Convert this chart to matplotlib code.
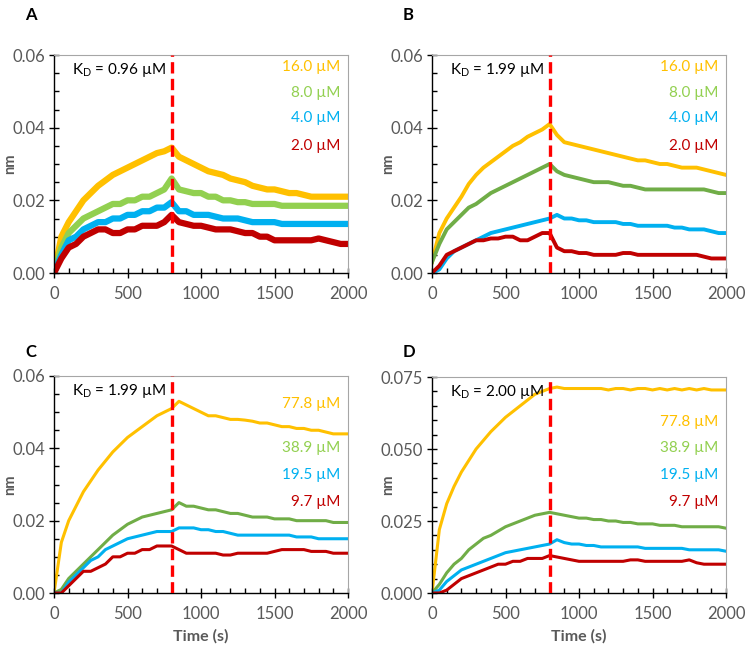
import matplotlib
matplotlib.use("Agg")
import matplotlib.pyplot as plt
from matplotlib.ticker import MultipleLocator, FormatStrFormatter

plt.rcParams["font.family"] = ["Lato", "DejaVu Sans"]

# time axis (s), one value every 50 s
time_s = list(range(0, 2001, 50))

# panel A
a_16 = [0, .010, .014, .017, .020, .022, .024, .0255, .027, .028, .029, .030, .031, .032, .033, .0335, .0345,
        .032, .031, .030, .029, .028, .0275, .027, .026, .0255, .025, .024, .0235, .023, .023, .0225, .022, .022,
        .0215, .021, .021, .021, .021, .021, .021]
a_8 = [0, .007, .011, .013, .015, .016, .017, .018, .019, .019, .020, .020, .021, .021, .022, .023, .026,
       .023, .0225, .022, .022, .021, .021, .020, .020, .0195, .0195, .019, .019, .019, .019, .0185, .0185, .0185,
       .0185, .0185, .0185, .0185, .0185, .0185, .0185]
a_4 = [0, .005, .009, .010, .012, .013, .014, .014, .015, .015, .016, .016, .017, .017, .018, .018, .0195,
       .017, .017, .016, .016, .016, .0155, .015, .015, .015, .0145, .014, .014, .014, .014, .0135, .0135, .0135,
       .0135, .0135, .0135, .0135, .0135, .0135, .0135]
a_2 = [0, .004, .007, .008, .010, .011, .012, .012, .011, .011, .012, .012, .013, .013, .013, .014, .016,
       .014, .0135, .013, .013, .0125, .012, .012, .012, .0115, .011, .011, .010, .010, .009, .009, .009, .009,
       .009, .009, .0095, .009, .0085, .008, .008]

# panel B
b_16 = [.003, .011, .015, .018, .021, .0245, .027, .029, .0305, .032, .0335, .035, .036, .0375, .0385, .0395, .041,
        .038, .036, .0355, .035, .0345, .034, .0335, .033, .0325, .032, .0315, .031, .031, .0305, .030, .030,
        .0295, .029, .029, .029, .0285, .028, .0275, .027]
b_8 = [.003, .008, .012, .014, .016, .018, .019, .0205, .022, .023, .024, .025, .026, .027, .028, .029, .030,
       .028, .027, .0265, .026, .0255, .025, .025, .025, .0245, .024, .024, .0235, .023, .023, .023, .023, .023,
       .023, .023, .023, .023, .0225, .022, .022]
b_4 = [0, .001, .004, .006, .007, .008, .009, .010, .011, .0115, .012, .0125, .013, .0135, .014, .0145, .015,
       .016, .015, .015, .0145, .0145, .014, .014, .014, .014, .0135, .0135, .013, .013, .013, .013, .013, .0125,
       .0125, .012, .012, .012, .0115, .011, .011]
b_2 = [0, .002, .005, .006, .007, .008, .009, .009, .0095, .0095, .010, .010, .009, .009, .010, .011, .011,
       .007, .006, .006, .0055, .0055, .005, .005, .005, .005, .0055, .0055, .005, .005, .005, .005, .005, .005,
       .005, .005, .005, .0045, .004, .004, .004]

# panel C
c_778 = [0, .014, .020, .024, .028, .031, .034, .0365, .039, .041, .043, .0445, .046, .0475, .049, .050, .051,
         .053, .052, .051, .050, .049, .049, .0485, .048, .048, .0478, .0475, .047, .047, .0465, .046, .046,
         .0455, .0455, .045, .045, .0445, .044, .044, .044]
c_389 = [0, .001, .004, .006, .008, .010, .012, .014, .016, .0175, .019, .020, .021, .0215, .022, .0225, .023,
         .025, .024, .024, .0235, .023, .023, .0225, .022, .022, .0215, .021, .021, .021, .0205, .0205, .0205,
         .020, .020, .020, .020, .020, .0195, .0195, .0195]
c_195 = [0, 0, .003, .005, .007, .009, .010, .012, .013, .014, .015, .0155, .016, .0165, .017, .017, .017,
         .018, .018, .018, .0175, .0175, .017, .017, .0165, .016, .016, .016, .016, .016, .016, .016, .016,
         .0155, .0155, .0155, .015, .015, .015, .015, .015]
c_97 = [0, 0, .002, .004, .006, .006, .007, .008, .010, .010, .011, .011, .012, .012, .013, .013, .013,
        .012, .011, .011, .011, .011, .011, .0105, .0105, .011, .011, .011, .011, .011, .0115, .012, .012,
        .012, .012, .0115, .0115, .0115, .011, .011, .011]

# panel D
d_778 = [0, .022, .031, .037, .042, .046, .050, .053, .056, .0585, .061, .063, .065, .067, .069, .070, .071,
         .0715, .071, .071, .071, .071, .071, .071, .0705, .071, .071, .0705, .071, .071, .0705, .071, .0705,
         .071, .0705, .071, .0705, .071, .0705, .0705, .0705]
d_389 = [0, .003, .007, .010, .012, .015, .017, .019, .020, .0215, .023, .024, .025, .026, .027, .0275, .028,
         .0275, .027, .0265, .026, .026, .0255, .0255, .025, .025, .0245, .0245, .024, .024, .024, .0235, .0235,
         .0235, .023, .023, .023, .023, .023, .023, .0225]
d_195 = [0, .001, .004, .006, .008, .009, .010, .011, .012, .013, .014, .0145, .015, .0155, .016, .0165, .017,
         .0185, .0175, .017, .017, .0165, .0165, .016, .016, .016, .016, .016, .016, .0155, .0155, .0155, .0155,
         .0155, .0155, .015, .015, .015, .015, .015, .0145]
d_97 = [0, 0, .001, .003, .005, .006, .007, .008, .009, .010, .010, .011, .011, .012, .012, .012, .013,
        .0125, .012, .0115, .011, .011, .011, .011, .011, .011, .011, .0115, .0115, .011, .011, .011, .011,
        .011, .011, .0115, .0105, .010, .010, .010, .010]

conc_ab = ["16.0 µM", "8.0 µM", "4.0 µM", "2.0 µM"]
conc_cd = ["77.8 µM", "38.9 µM", "19.5 µM", "9.7 µM"]
kd_labels = ["0.96", "1.99", "1.99", "2.00"]
panel_letters = ["A", "B", "C", "D"]
switch_time = 800

YELLOW = "#FFC000"
LGREEN = "#92D050"
DGREEN = "#70AD47"
BLUE = "#00B0F0"
RED = "#C00000"
GRAY = "#595959"

W, H = 749, 651
fig = plt.figure(figsize=(W / 100, H / 100), dpi=100)


def rect(left, top, right, bottom):
    return [left / W, 1 - bottom / H, (right - left) / W, (bottom - top) / H]


def lab_pos(ymax, top, bottom, pix):
    return [ymax * (bottom - p) / (bottom - top) for p in pix]


panels = [
    dict(rect=rect(54, 55, 348, 273), series=[a_16, a_8, a_4, a_2], conc=conc_ab,
         colors=[YELLOW, LGREEN, BLUE, RED], lw=4.5, ymax=0.06, major=0.02, fmt="%.2f",
         lab_y=lab_pos(0.06, 55, 273, [67, 93, 118, 146]), xlabel=False, letter_xy=(25, 15)),
    dict(rect=rect(432, 55, 726, 273), series=[b_16, b_8, b_4, b_2], conc=conc_ab,
         colors=[YELLOW, DGREEN, BLUE, RED], lw=2.8, ymax=0.06, major=0.02, fmt="%.2f",
         lab_y=lab_pos(0.06, 55, 273, [67, 93, 118, 146]), xlabel=False, letter_xy=(403, 15)),
    dict(rect=rect(54, 376, 348, 593), series=[c_778, c_389, c_195, c_97], conc=conc_cd,
         colors=[YELLOW, DGREEN, BLUE, RED], lw=2.2, ymax=0.06, major=0.02, fmt="%.2f",
         lab_y=lab_pos(0.06, 376, 593, [404, 448, 475, 502]), xlabel=True, letter_xy=(25, 352)),
    dict(rect=rect(432, 377, 726, 593), series=[d_778, d_389, d_195, d_97], conc=conc_cd,
         colors=[YELLOW, DGREEN, BLUE, RED], lw=2.2, ymax=0.075, major=0.025, fmt="%.3f",
         lab_y=lab_pos(0.075, 377, 593, [422, 448, 475, 502]), xlabel=True, letter_xy=(403, 352)),
]
label_colors = [YELLOW, LGREEN, BLUE, RED]

for p, letter, kd in zip(panels, panel_letters, kd_labels):
    ax = fig.add_axes(p["rect"])
    for ys, c in zip(p["series"], p["colors"]):
        ax.plot(time_s, ys, color=c, lw=p["lw"], zorder=2)
    ax.plot([switch_time, switch_time], [0, p["ymax"]], color="#FF0000", lw=2.4,
            dashes=(3.4, 1.6), zorder=3)
    ax.set_xlim(0, 2000)
    ax.set_ylim(0, p["ymax"])
    ax.xaxis.set_major_locator(MultipleLocator(500))
    ax.xaxis.set_minor_locator(MultipleLocator(100))
    ax.yaxis.set_major_locator(MultipleLocator(p["major"]))
    ax.yaxis.set_minor_locator(MultipleLocator(0.005))
    ax.yaxis.set_major_formatter(FormatStrFormatter(p["fmt"]))
    ax.tick_params(which="major", direction="inout", length=7, width=1, labelsize=12,
                   labelcolor=GRAY, color="black", pad=3)
    ax.tick_params(axis="x", which="major", pad=6)
    ax.tick_params(which="minor", direction="in", length=3.5, width=1, color="black")
    ax.tick_params(top=False, right=False, which="both")
    for side in ["left", "bottom"]:
        ax.spines[side].set_color("black")
        ax.spines[side].set_linewidth(1.0)
    for side in ["top", "right"]:
        ax.spines[side].set_color("#A6A6A6")
        ax.spines[side].set_linewidth(0.8)
    ax.set_ylabel("nm", fontsize=10.5, fontweight="bold", color=GRAY)
    ax.yaxis.set_label_coords(-0.125, 0.5)
    if p["xlabel"]:
        ax.set_xlabel("Time (s)", fontsize=11.5, fontweight="bold", color=GRAY, labelpad=5)
    ax.text(0.06, 0.93, "K$_\\mathregular{D}$ = " + kd + " µM", transform=ax.transAxes,
            fontsize=11, color="black", va="center", ha="left")
    for name, yv, c in zip(p["conc"], p["lab_y"], label_colors):
        ax.text(1945, yv, name, color=c, fontsize=11, ha="right", va="center")
    lx, ly = p["letter_xy"]
    fig.text(lx / W, 1 - ly / H, letter, fontsize=12, fontweight="bold", ha="left", va="center")

fig.savefig("out.png", dpi=100)
plt.close()
